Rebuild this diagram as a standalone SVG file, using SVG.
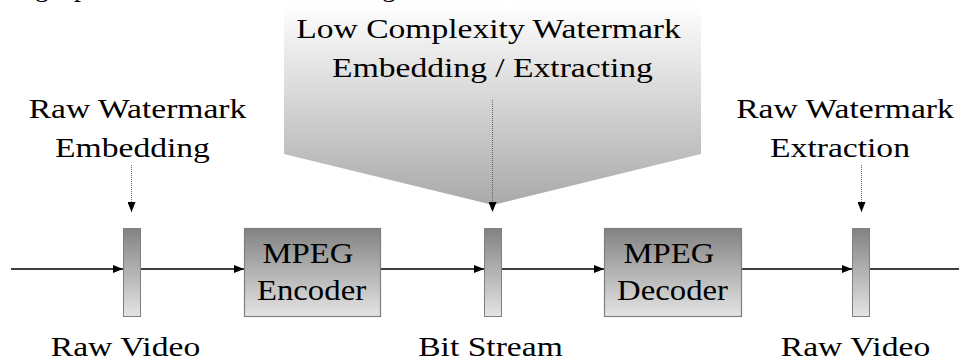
<svg xmlns="http://www.w3.org/2000/svg" width="959" height="360" viewBox="0 0 959 360">
  <defs>
    <linearGradient id="funnelFill" x1="0" y1="0" x2="0" y2="1">
      <stop offset="0" stop-color="#ffffff"/>
      <stop offset="1" stop-color="#a9a9a9"/>
    </linearGradient>
    <linearGradient id="blockFill" x1="0" y1="0" x2="0" y2="1">
      <stop offset="0" stop-color="#828282"/>
      <stop offset="1" stop-color="#e4e4e4"/>
    </linearGradient>
    <marker id="arrow" markerWidth="10" markerHeight="8" refX="10" refY="4" orient="auto" markerUnits="userSpaceOnUse">
      <path d="M0,0 L10,4 L0,8 Z" fill="#000"/>
    </marker>
    <marker id="drop" markerWidth="8" markerHeight="10" refX="4" refY="10" orient="0" markerUnits="userSpaceOnUse">
      <path d="M0,0 L8,0 L4,10 Z" fill="#000"/>
    </marker>
  </defs>
  <style>
    .lbl { font-size: 28px; fill: #000; }
    .blk { font-size: 29px; fill: #000; }
    .bar { fill: url(#blockFill); stroke: #808080; stroke-width: 1; }
    .box { fill: url(#blockFill); stroke: #7f7f7f; stroke-width: 1.2; }
    .flow { stroke: #000; stroke-width: 1.3; fill: none; }
    .hint { stroke: #666; stroke-width: 1; stroke-dasharray: 1 1; fill: none; }
  </style>

  <!-- descenders of the line above, clipped by the top edge -->
  <g id="clipped-line">
    <text class="lbl" font-family="Liberation Serif" x="35" y="-4">g</text>
    <text class="lbl" font-family="Liberation Serif" x="74" y="-4">p</text>
    <text class="lbl" font-family="Liberation Serif" x="382" y="-4">g</text>
  </g>

  <!-- funnel callout for the compressed-domain stage -->
  <g id="funnel">
    <polygon points="284,4 701,4 701,154 493,205 284,154" fill="url(#funnelFill)"/>
    <text class="lbl" font-family="Liberation Serif" text-anchor="middle" transform="translate(488.5,38) scale(1.2,1)">Low Complexity Watermark</text>
    <text class="lbl" font-family="Liberation Serif" text-anchor="middle" transform="translate(492.5,77) scale(1.2,1)">Embedding / Extracting</text>
  </g>

  <g id="label-embed">
    <text class="lbl" font-family="Liberation Serif" text-anchor="middle" transform="translate(137.5,118) scale(1.2,1)">Raw Watermark</text>
    <text class="lbl" font-family="Liberation Serif" text-anchor="middle" transform="translate(132.5,157) scale(1.2,1)">Embedding</text>
  </g>
  <g id="label-extract">
    <text class="lbl" font-family="Liberation Serif" text-anchor="middle" transform="translate(845,118) scale(1.2,1)">Raw Watermark</text>
    <text class="lbl" font-family="Liberation Serif" text-anchor="middle" transform="translate(840,157) scale(1.2,1)">Extraction</text>
  </g>

  <g id="connectors">
    <path class="hint" d="M131.5,165 V212" marker-end="url(#drop)"/>
    <path class="hint" d="M492.5,100 V212" marker-end="url(#drop)"/>
    <path class="hint" d="M861.5,165 V212" marker-end="url(#drop)"/>
    <path class="flow" d="M11,269 H123" marker-end="url(#arrow)"/>
    <path class="flow" d="M140,269 H244" marker-end="url(#arrow)"/>
    <path class="flow" d="M381,269 H484" marker-end="url(#arrow)"/>
    <path class="flow" d="M501,269 H604" marker-end="url(#arrow)"/>
    <path class="flow" d="M741,269 H852" marker-end="url(#arrow)"/>
    <path class="flow" d="M869,269 H959"/>
  </g>

  <g id="embed-point">
    <rect class="bar" x="123.5" y="228.5" width="17" height="88"/>
  </g>
  <g id="mpeg-encoder">
    <rect class="box" x="244.5" y="228.5" width="136" height="88"/>
    <text class="blk" font-family="Liberation Serif" text-anchor="middle" transform="translate(308,263) scale(1.13,1)">MPEG</text>
    <text class="blk" font-family="Liberation Serif" text-anchor="middle" transform="translate(311.5,300) scale(1.13,1)">Encoder</text>
  </g>
  <g id="stream-point">
    <rect class="bar" x="484.5" y="228.5" width="17" height="88"/>
  </g>
  <g id="mpeg-decoder">
    <rect class="box" x="604.5" y="228.5" width="137" height="88"/>
    <text class="blk" font-family="Liberation Serif" text-anchor="middle" transform="translate(669,263) scale(1.13,1)">MPEG</text>
    <text class="blk" font-family="Liberation Serif" text-anchor="middle" transform="translate(672.5,300) scale(1.13,1)">Decoder</text>
  </g>
  <g id="extract-point">
    <rect class="bar" x="852.5" y="228.5" width="17" height="88"/>
  </g>

  <g id="captions">
    <text class="lbl" font-family="Liberation Serif" text-anchor="middle" transform="translate(125.5,356) scale(1.2,1)">Raw Video</text>
    <text class="lbl" font-family="Liberation Serif" text-anchor="middle" transform="translate(490.5,356) scale(1.2,1)">Bit Stream</text>
    <text class="lbl" font-family="Liberation Serif" text-anchor="middle" transform="translate(855.5,356) scale(1.2,1)">Raw Video</text>
  </g>
</svg>
